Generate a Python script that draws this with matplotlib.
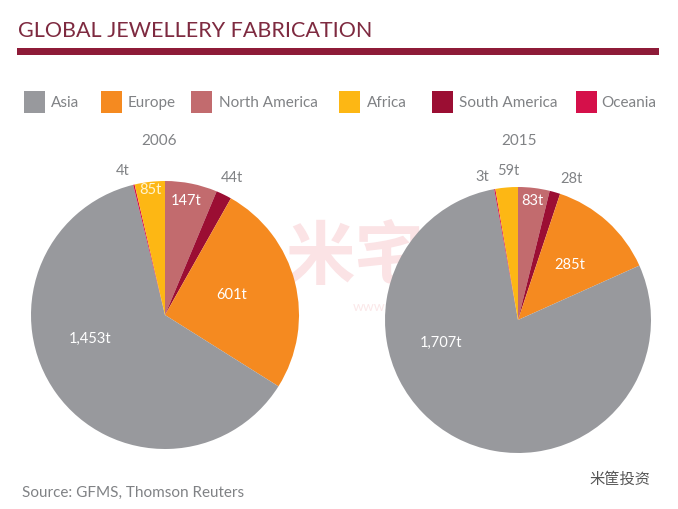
import matplotlib
matplotlib.use("Agg")
import matplotlib.pyplot as plt
from matplotlib.patches import Rectangle

W, H = 678, 509
plt.rcParams['font.family'] = ['Lato', 'Noto Sans CJK SC', 'DejaVu Sans']

categories = ["North America", "South America", "Europe", "Asia", "Oceania", "Africa"]
values_2006 = [147, 44, 601, 1453, 4, 85]
values_2015 = [83, 28, 285, 1707, 3, 59]
labels_2006 = ["147t", "44t", "601t", "1,453t", "4t", "85t"]
labels_2015 = ["83t", "28t", "285t", "1,707t", "3t", "59t"]
colors = {"Asia": "#98999D", "Europe": "#F58A20", "North America": "#C26B6E",
          "Africa": "#FDB714", "South America": "#9B0E33", "Oceania": "#D5104A"}
legend_order = ["Asia", "Europe", "North America", "Africa", "South America", "Oceania"]
legend_box_x = [24, 101, 191, 339, 432, 576]
legend_text_x = [51, 128, 219, 367, 459, 601]

fig = plt.figure(figsize=(W/100, H/100), dpi=100, facecolor="white")
bg = fig.add_axes([0, 0, 1, 1])
bg.set_xlim(0, W); bg.set_ylim(H, 0); bg.axis("off")

# title + rule
bg.text(18, 31, "GLOBAL JEWELLERY FABRICATION", fontsize=15.5, color="#7E2A40", va="center", ha="left")
bg.add_patch(Rectangle((17, 48), 642, 6.5, color="#8E1B38", lw=0))

# legend
for name, bx, tx in zip(legend_order, legend_box_x, legend_text_x):
    bg.add_patch(Rectangle((bx, 91), 21, 22, color=colors[name], lw=0))
    bg.text(tx, 103, name, fontsize=11, color="#808285", va="center", ha="left")

bg.text(159, 141, "2006", fontsize=11, color="#808285", ha="center", va="center")
bg.text(519, 141, "2015", fontsize=11, color="#808285", ha="center", va="center")

# watermark
bg.text(355, 258, "米宅", fontsize=50, color="#FBE3E5", ha="center", va="center", fontweight="bold", zorder=5)
bg.text(405, 307, "www.mizhai.com", fontsize=10, color="#FBE8E9", ha="center", va="center", zorder=5)
bg.text(620, 480, "米筐投资", fontsize=11, color="#555555", ha="center", va="center")

bg.text(22, 493, "Source: GFMS, Thomson Reuters", fontsize=11, color="#808285", va="center", ha="left")


def pie(cx, cy, r, values):
    ax = fig.add_axes([(cx-r)/W, 1-(cy+r)/H, 2*r/W, 2*r/H])
    ax.pie(values, colors=[colors[c] for c in categories], startangle=90, counterclock=False,
           radius=1, wedgeprops=dict(lw=0))
    ax.set_xlim(-1, 1); ax.set_ylim(-1, 1)
    ax.patch.set_alpha(0)
    ax.set_zorder(2)


pie(165, 315, 134, values_2006)
pie(518, 320, 133, values_2015)

top = fig.add_axes([0, 0, 1, 1], zorder=10)
top.set_xlim(0, W); top.set_ylim(H, 0); top.axis("off"); top.patch.set_alpha(0)

pos_2006 = [(186, 201), (232, 178), (232, 295), (90, 339), (123, 171), (150, 190)]
pos_2015 = [(532, 201), (571, 179), (570, 265), (441, 343), (482, 177), (508, 171)]
for labels, pos in ((labels_2006, pos_2006), (labels_2015, pos_2015)):
    for lab, (x, y), cat in zip(labels, pos, categories):
        outside = lab in ("44t", "4t", "28t", "3t", "59t")
        top.text(x, y, lab, fontsize=10.5, ha="center", va="center",
                 color="#808285" if outside else "#FFFFFF" if cat != "Africa" else "#FFF4D0")

fig.savefig("out.png", dpi=100)
